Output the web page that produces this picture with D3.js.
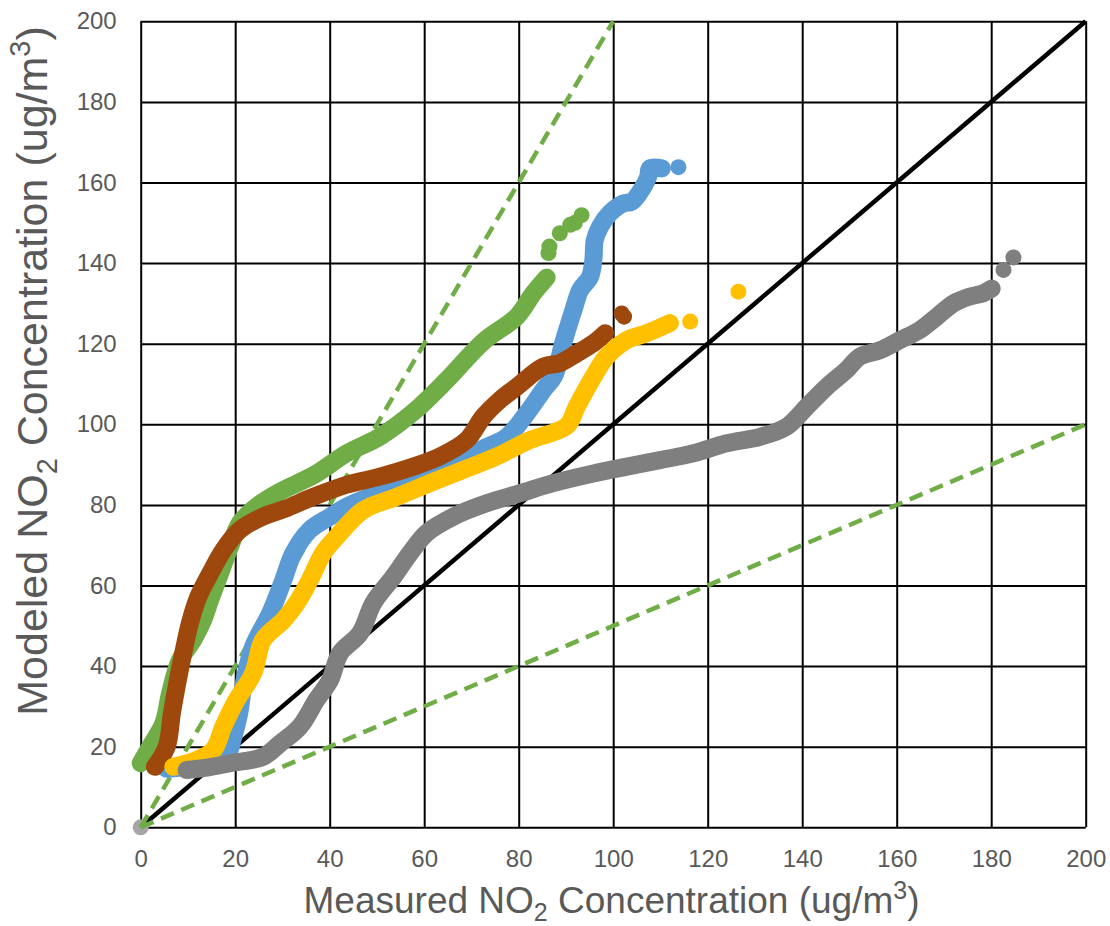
<!DOCTYPE html>
<html>
<head>
<meta charset="utf-8">
<script src="https://cdn.jsdelivr.net/npm/d3@7"></script>
<style>
  body { margin: 0; background: #fff; }
  svg { display: block; font-family: "Liberation Sans", Arial, sans-serif; }
</style>
</head>
<body>
<svg id="chart" width="1110" height="926"></svg>
<script>
// axis ticks (both axes)
const ticks = [0, 20, 40, 60, 80, 100, 120, 140, 160, 180, 200];

// reference lines: 1:1 (solid) and factor-of-two bounds (dashed)
const oneToOne = [[0, 0], [200, 200]];
const factorTwo = [[[0, 0], [100, 200]], [[0, 0], [200, 100]]];
const originPt = [0, 0];

// [measured, modeled]; "loose" = the separate dots at the top end
const greenPts = [[0, 15.9], [2, 20], [4.8, 25.8], [6.2, 33.2], [8.3, 41.5], [11.1, 46.5], [13.2, 51.4],
  [14.7, 56.4], [16.8, 63], [18.9, 69.6], [21, 75.5], [24.5, 79.6], [29.5, 83.3], [36.8, 87.5],
  [43.6, 92.8], [50.6, 96.9], [57.7, 103], [64.8, 111], [72.5, 120.5], [79.6, 126.7], [83.1, 132.5], [85.9, 136.4]];
const greenLoose = [[86.3, 142.5], [86.5, 144.1], [88.7, 147.4], [90.9, 149.5], [91.9, 150], [93.3, 151.9]];

const bluePts = [[5.5, 14.5], [10, 15], [15, 15.8], [18.3, 18], [19.5, 22], [20.8, 28], [21.7, 34.9],
  [23.8, 44.8], [27.4, 53.1], [30.2, 61.4], [32.3, 68], [35.8, 73.8], [40.1, 77.1], [43.6, 79.6],
  [50.6, 82.9], [57.7, 85.4], [64.8, 88.7], [71.8, 93.6], [77.5, 96.9], [81.7, 102.7], [85.2, 108.5],
  [87.5, 112], [89.4, 120.1], [91.6, 128.4], [93, 133.3], [95.1, 136.6], [95.8, 140.8], [96.1, 145.7],
  [97.2, 149], [99.3, 152.4], [102.1, 154.8], [103.9, 155.2], [106.4, 159], [107.4, 161.4],
  [107.8, 163.5], [110.3, 163.5]];
const blueLoose = [[113.8, 163.8]];

const brownPts = [[3, 15], [5.5, 20], [6.6, 28.3], [7.6, 34.9], [9, 43.2], [10.4, 50.6], [12.2, 57.2],
  [14.7, 63], [17.5, 68.8], [21, 73.8], [25.9, 77.1], [30.5, 79], [36.5, 82], [43.6, 85], [50.6, 87],
  [57.7, 89.5], [63.3, 92], [69, 96.1], [72.5, 101.9], [76, 106], [79.6, 109.3], [85.2, 114.3],
  [88.7, 115.2], [92.3, 117.6], [95.8, 120.1], [98.3, 122.6]];
const brownLoose = [[101.8, 127.5], [102.3, 126.7]];

const yellowPts = [[6.9, 15], [11.8, 16.7], [15.4, 19.2], [17.5, 25], [20.3, 31.6], [23.8, 38.2],
  [25.9, 46.5], [30.2, 51.4], [33, 55.6], [35.8, 61.4], [38.6, 68], [41.5, 72.1], [47.1, 78.7],
  [54.2, 82], [61.2, 85.4], [68.3, 88.7], [75.3, 92], [82.4, 96.1], [90.2, 99.6], [92.3, 104.4],
  [95.8, 111.8], [98.6, 116.8], [102.9, 120.9], [107.1, 122.6], [112, 125.1]];
const yellowLoose = [[116.3, 125.5], [126.5, 132.9]];

const grayPts = [[9.7, 14.2], [14, 14.8], [18.9, 15.9], [25.9, 17.5], [29.5, 20.8], [33.7, 25],
  [37.2, 31.6], [40.1, 36.6], [42.2, 43.2], [46.4, 48.1], [49.2, 55.6], [53.5, 62.2], [57, 68],
  [60.5, 73], [66.2, 77.1], [73.2, 80.4], [80.3, 82.9], [87.3, 85.4], [95.8, 87.8], [102.9, 89.5],
  [109.9, 91.1], [117, 92.8], [124, 95.3], [131.1, 96.9], [136.7, 99.4], [141, 104.4], [145.2, 109.3],
  [149.4, 113.5], [152.2, 116.8], [156.5, 118.4], [160.7, 120.9], [164.9, 123.4], [168.5, 126.7],
  [172, 130], [175.5, 131.7], [178.3, 132.5], [180.1, 133.7]];
const grayLoose = [[182.6, 138.3], [184.7, 141.4]];

// drawing order: later ones sit on top
const series = [
  { pts: greenPts, loose: greenLoose, color: "#70AD47" },
  { pts: bluePts, loose: blueLoose, color: "#5B9BD5" },
  { pts: brownPts, loose: brownLoose, color: "#9E480E" },
  { pts: yellowPts, loose: yellowLoose, color: "#FFC000" },
  { pts: grayPts, loose: grayLoose, color: "#7F7F7F" }
];

const svg = d3.select("#chart");
const x = d3.scaleLinear().domain([0, 200]).range([140.7, 1085.7]);
const y = d3.scaleLinear().domain([0, 200]).range([827.3, 21.3]);
const textColor = "#595959";
const r = 8;
const band = 18;

// grid + tick labels
const gx = svg.append("g")
  .attr("transform", `translate(0,${y(0)})`)
  .call(d3.axisBottom(x).tickValues(ticks).tickSize(-(y(0) - y(200))).tickPadding(23));
const gy = svg.append("g")
  .attr("transform", `translate(${x(0)},0)`)
  .call(d3.axisLeft(y).tickValues(ticks).tickSize(-(x(200) - x(0))).tickPadding(24));
[gx, gy].forEach(g => {
  g.select(".domain").remove();
  g.selectAll(".tick line").attr("stroke", "#000").attr("stroke-width", 2);
  g.selectAll(".tick text").attr("fill", textColor).attr("font-size", 24)
    .attr("font-family", "'Liberation Sans', Arial, sans-serif");
});

// origin marker
svg.append("circle")
  .attr("cx", x(originPt[0])).attr("cy", y(originPt[1])).attr("r", r)
  .attr("fill", "#A5A5A5");

const line = d3.line().x(d => x(d[0])).y(d => y(d[1]));
const smooth = d3.line().x(d => x(d[0])).y(d => y(d[1])).curve(d3.curveCatmullRom.alpha(0.5));

svg.append("path").datum(oneToOne)
  .attr("d", line).attr("fill", "none")
  .attr("stroke", "#000").attr("stroke-width", 4.5);

svg.selectAll(".ref2").data(factorTwo).enter().append("path")
  .attr("d", line).attr("fill", "none")
  .attr("stroke", "#70AD47").attr("stroke-width", 4.5)
  .attr("stroke-dasharray", "14,8");

// scatter series: dense part as a fat round line + dots, loose points as dots
series.forEach(s => {
  const g = svg.append("g");
  g.append("path").datum(s.pts)
    .attr("d", smooth).attr("fill", "none")
    .attr("stroke", s.color).attr("stroke-width", band)
    .attr("stroke-linecap", "round").attr("stroke-linejoin", "round");
  g.selectAll("circle").data(s.pts.concat(s.loose)).enter().append("circle")
    .attr("cx", d => x(d[0])).attr("cy", d => y(d[1])).attr("r", r)
    .attr("fill", s.color);
});

// axis titles
const xt = svg.append("text")
  .attr("x", 611.5).attr("y", 913)
  .attr("text-anchor", "middle").attr("font-size", 37).attr("fill", textColor);
xt.append("tspan").text("Measured NO");
xt.append("tspan").text("2").attr("font-size", 25).attr("dy", 8);
xt.append("tspan").text(" Concentration (ug/m").attr("dy", -8);
xt.append("tspan").text("3").attr("font-size", 25).attr("dy", -14);
xt.append("tspan").text(")").attr("dy", 14);

const yt = svg.append("text")
  .attr("transform", "translate(46.7,371) rotate(-90)")
  .attr("text-anchor", "middle").attr("font-size", 43).attr("fill", textColor);
yt.append("tspan").text("Modeled NO");
yt.append("tspan").text("2").attr("font-size", 29).attr("dy", 10);
yt.append("tspan").text(" Concentration (ug/m").attr("dy", -10);
yt.append("tspan").text("3").attr("font-size", 29).attr("dy", -17);
yt.append("tspan").text(")").attr("dy", 17);
</script>
</body>
</html>
